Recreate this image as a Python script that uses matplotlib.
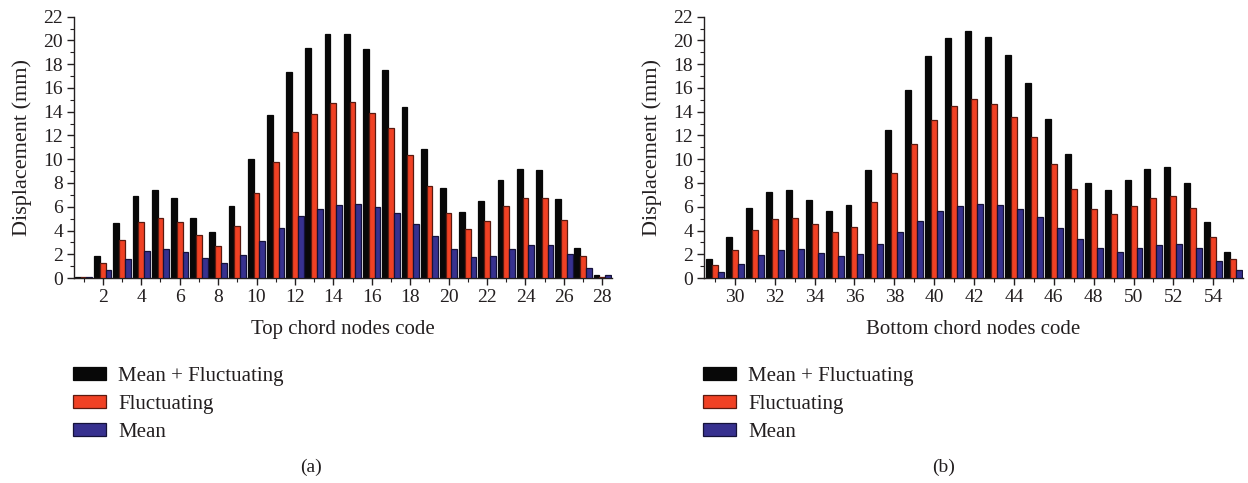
import matplotlib
matplotlib.use("Agg")
import matplotlib.pyplot as plt
from matplotlib.ticker import MultipleLocator
from matplotlib.patches import Patch
import numpy as np

plt.rcParams['font.family'] = ['Liberation Serif', 'DejaVu Serif']

# ---- data ----
top_nodes = list(range(1, 29))
top_total = [0.10, 1.88, 4.65, 6.87, 7.37, 6.75, 5.07, 3.84, 6.08, 9.98,
             13.73, 17.38, 19.34, 20.52, 20.54, 19.31, 17.54, 14.43, 10.87, 7.57,
             5.58, 6.47, 8.27, 9.14, 9.08, 6.67, 2.52, 0.25]
top_fluct = [0.06, 1.23, 3.17, 4.71, 5.07, 4.71, 3.59, 2.66, 4.40, 7.15,
             9.73, 12.33, 13.85, 14.77, 14.85, 13.93, 12.64, 10.34, 7.76, 5.44,
             4.09, 4.79, 6.05, 6.70, 6.70, 4.88, 1.82, 0.10]
top_mean = [0.05, 0.64, 1.57, 2.27, 2.44, 2.21, 1.68, 1.26, 1.93, 3.11,
            4.18, 5.24, 5.83, 6.14, 6.19, 5.97, 5.47, 4.57, 3.50, 2.47,
            1.74, 1.88, 2.47, 2.75, 2.77, 2.05, 0.81, 0.22]

bot_nodes = list(range(29, 56))
bot_total = [1.60, 3.48, 5.86, 7.26, 7.37, 6.56, 5.63, 6.11, 9.08, 12.47,
             15.86, 18.69, 20.18, 20.80, 20.29, 18.75, 16.42, 13.40, 10.43, 8.02,
             7.37, 8.27, 9.19, 9.36, 8.02, 4.71, 2.16]
bot_fluct = [1.07, 2.35, 4.01, 4.96, 5.07, 4.54, 3.90, 4.26, 6.42, 8.83,
             11.27, 13.34, 14.52, 15.05, 14.69, 13.54, 11.86, 9.64, 7.48, 5.77,
             5.41, 6.08, 6.73, 6.89, 5.91, 3.45, 1.60]
bot_mean = [0.53, 1.18, 1.93, 2.38, 2.44, 2.13, 1.82, 1.99, 2.86, 3.84,
            4.82, 5.66, 6.08, 6.22, 6.17, 5.80, 5.13, 4.23, 3.31, 2.49,
            2.21, 2.49, 2.77, 2.86, 2.52, 1.46, 0.67]

series_labels = ["Mean + Fluctuating", "Fluctuating", "Mean"]
xlabels = ["Top chord nodes code", "Bottom chord nodes code"]
panel_labels = ["(a)", "(b)"]

# ---- style ----
face = ["#080808", "#f04124", "#37318f"]
edge = ["#080808", "#5a1a10", "#15123a"]
txt = "#231f20"

fig = plt.figure(figsize=(12.48, 4.83), dpi=100)
ax1 = fig.add_axes([0.0593, 0.4244, 0.431, 0.541])
ax2 = fig.add_axes([0.5641, 0.4244, 0.432, 0.541])

w = 0.3
panels = [
    (ax1, top_nodes, [top_total, top_fluct, top_mean], (0.5, 28.5), np.arange(2, 29, 2)),
    (ax2, bot_nodes, [bot_total, bot_fluct, bot_mean], (28.45, 55.5), np.arange(30, 55, 2)),
]
for i, (ax, nodes, vals, xlim, xt) in enumerate(panels):
    x = np.array(nodes, dtype=float)
    for k, v in enumerate(vals):
        ax.bar(x + (k - 1) * w, v, width=w, color=face[k], edgecolor=edge[k],
               linewidth=0.9, zorder=2 + k)
    ax.set_xlim(*xlim)
    ax.set_ylim(0, 22)
    ax.set_xticks(xt)
    ax.xaxis.set_minor_locator(MultipleLocator(1))
    ax.yaxis.set_major_locator(MultipleLocator(2))
    ax.yaxis.set_minor_locator(MultipleLocator(1))
    for s in ("top", "right"):
        ax.spines[s].set_visible(False)
    for s in ("left", "bottom"):
        ax.spines[s].set_color(txt)
        ax.spines[s].set_linewidth(1.0)
    ax.tick_params(which="major", direction="out", length=5, width=1.0,
                   colors=txt, labelsize=14, pad=3)
    ax.tick_params(which="minor", direction="out", length=3, width=0.8, colors=txt)
    ax.set_ylabel("Displacement (mm)", fontsize=16, color=txt, labelpad=8)
    ax.set_xlabel(xlabels[i], fontsize=15, color=txt, labelpad=10)
    handles = [Patch(facecolor=face[k], edgecolor=edge[k], linewidth=0.9,
                     label=series_labels[k]) for k in range(3)]
    ax.legend(handles=handles, loc="upper left", bbox_to_anchor=(-0.002, -0.34),
              frameon=False, fontsize=15, handlelength=1.6, handleheight=0.6,
              handletextpad=0.58, labelspacing=0.43, borderaxespad=0,
              borderpad=0, labelcolor=txt)

fig.text(0.249, 0.033, panel_labels[0], ha="center", va="center", fontsize=14, color=txt)
fig.text(0.756, 0.033, panel_labels[1], ha="center", va="center", fontsize=14, color=txt)

fig.savefig("out.png", dpi=100)
